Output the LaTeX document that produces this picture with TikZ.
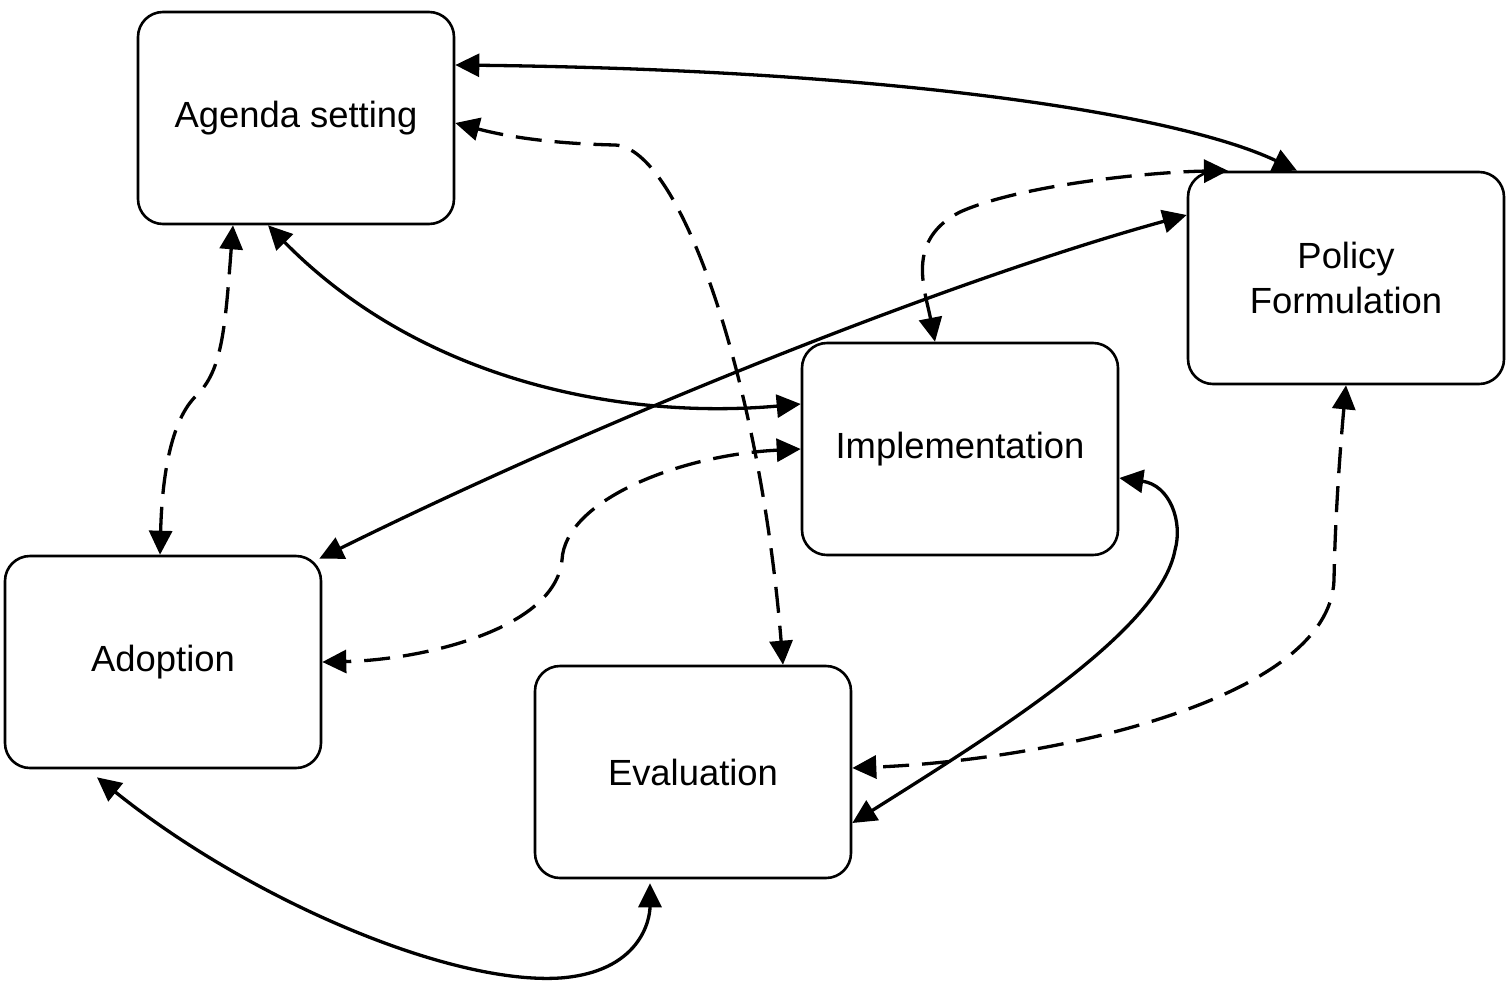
\documentclass[tikz,border=0pt]{standalone}
\usepackage{fontspec}
\setmainfont{Liberation Sans}
\usetikzlibrary{arrows.meta}
\tikzset{
  stagebox/.style={draw=black, line width=2.6pt, rounded corners=25pt, minimum width=316pt, minimum height=212pt, align=center, font=\fontsize{36.4}{45}\selectfont, inner sep=0pt, fill=white},
  link/.style={line width=3.3pt, {Triangle[length=24pt,width=23pt]}-{Triangle[length=24pt,width=23pt]}},
  dlink/.style={link, dash pattern=on 26pt off 13pt}
}
\begin{document}
\begin{tikzpicture}[x=1pt,y=-1pt]
\fill[white] (0,0) rectangle (1511,980);
\useasboundingbox (0,0) rectangle (1511,980);

\node[stagebox] (agenda) at (296,118) {Agenda setting};
\node[stagebox] (policy) at (1346,278) {Policy\\Formulation};
\node[stagebox] (impl) at (960,449) {Implementation};
\node[stagebox] (adopt) at (163,662) {Adoption};
\node[stagebox] (eval) at (693,772) {Evaluation};

% 1 agenda <-> policy (solid)
\draw[link] ([yshift=53pt]agenda.east) .. controls (900,70) and (1180,115) .. ([xshift=-49pt]policy.north);
% 2 agenda <-> evaluation (dashed)
\draw[dlink] ([yshift=-5pt]agenda.east) .. controls (520,140) and (570,144) .. (615,145) .. controls (680,148) and (760,380) .. ([xshift=90pt]eval.north);
% 3 implementation <-> policy (dashed)
\draw[dlink] ([xshift=-25pt]impl.north) .. controls (925,290) and (905,240) .. (960,212) .. controls (1020,185) and (1150,172) .. ([xshift=-118pt]policy.north);
% 4 adoption <-> policy (solid)
\draw[link] ([xshift=-3pt,yshift=-4pt]adopt.north east) .. controls (600,420) and (950,280) .. ([yshift=63pt]policy.west);
% 5 agenda <-> implementation (solid)
\draw[link] ([xshift=-28pt]agenda.south) .. controls (420,380) and (620,420) .. ([yshift=45pt]impl.west);
% 6 agenda <-> adoption (dashed)
\draw[dlink] ([xshift=-63pt]agenda.south) .. controls (225,330) and (222,370) .. (197,395) .. controls (170,420) and (162,480) .. ([xshift=-3pt]adopt.north);
% 7 implementation <-> adoption (dashed)
\draw[dlink] (impl.west) .. controls (680,455) and (565,500) .. (562,560) .. controls (555,630) and (420,660) .. (adopt.east);
% 8 implementation <-> evaluation (solid)
\draw[link] ([yshift=-29pt]impl.east) .. controls (1170,485) and (1183,522) .. (1175,550) .. controls (1160,630) and (1000,730) .. ([yshift=-51pt]eval.east);
% 9 policy <-> evaluation (dashed)
\draw[dlink] (policy.south) .. controls (1340,450) and (1335,520) .. (1334,580) .. controls (1330,700) and (1050,760) .. ([yshift=4pt]eval.east);
% 10 adoption <-> evaluation (solid)
\draw[link] ([xshift=-66pt,yshift=-8pt]adopt.south) .. controls (250,900) and (450,985) .. (560,978) .. controls (640,972) and (650,920) .. ([xshift=-43pt,yshift=-4pt]eval.south);
\end{tikzpicture}
\end{document}
